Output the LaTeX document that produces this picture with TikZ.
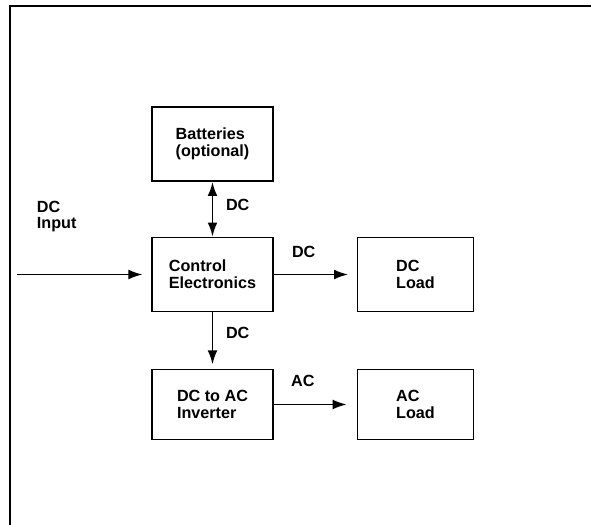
\documentclass[tikz,border=0pt]{standalone}
\usepackage{fontspec}
\setmainfont{Liberation Sans}
\usetikzlibrary{arrows.meta, positioning}

\begin{document}
\begin{tikzpicture}[x=0.025cm,y=-0.025cm,>={Latex[length=10pt,width=7pt]},line width=1.3pt,
	font=\fontsize{11.5}{12}\selectfont\bfseries,
	block/.style={draw,align=left,minimum width=3.03cm,minimum height=1.85cm},
	load/.style={block,minimum width=2.9cm},
	lab/.style={inner sep=0pt}]
	\useasboundingbox (0,0) rectangle (591,525);
	% frame
	\draw (591,6) -- (10,6) -- (10,525);

	\node[block] (bat) at (212.5,144) {Batteries\\(optional)};
	\node[block] (ctrl) at (212.5,274.5) {Control\\Electronics};
	\node[load] (dcload) at (415.5,274.5) {DC\\Load};
	\node[block, minimum height=1.75cm] (inv) at (212.5,404.5) {DC to AC\\Inverter};
	\node[load, minimum height=1.75cm] (acload) at (415.5,404.5) {AC\\Load};

	\coordinate (in) at (17,274.5);
	\node[lab, anchor=west, align=left] (inlab) at (36,216.5) {DC\\Input};

	\path
		(bat)

	edge [<->] node[lab, right=9pt, pos=0.43] {DC} (ctrl)
		(in)

	edge [->, shorten >=6pt] (ctrl)
		(ctrl)

	edge [->, shorten >=6pt] node[lab, above=11pt, pos=0.36] {DC} (dcload)
	edge [->, shorten >=3pt] node[lab, right=9pt, pos=0.36] {DC} (inv)
		(inv)

	edge [->, shorten >=7pt] node[lab, above=12pt, pos=0.35] {AC} (acload);
\end{tikzpicture}
\end{document}
